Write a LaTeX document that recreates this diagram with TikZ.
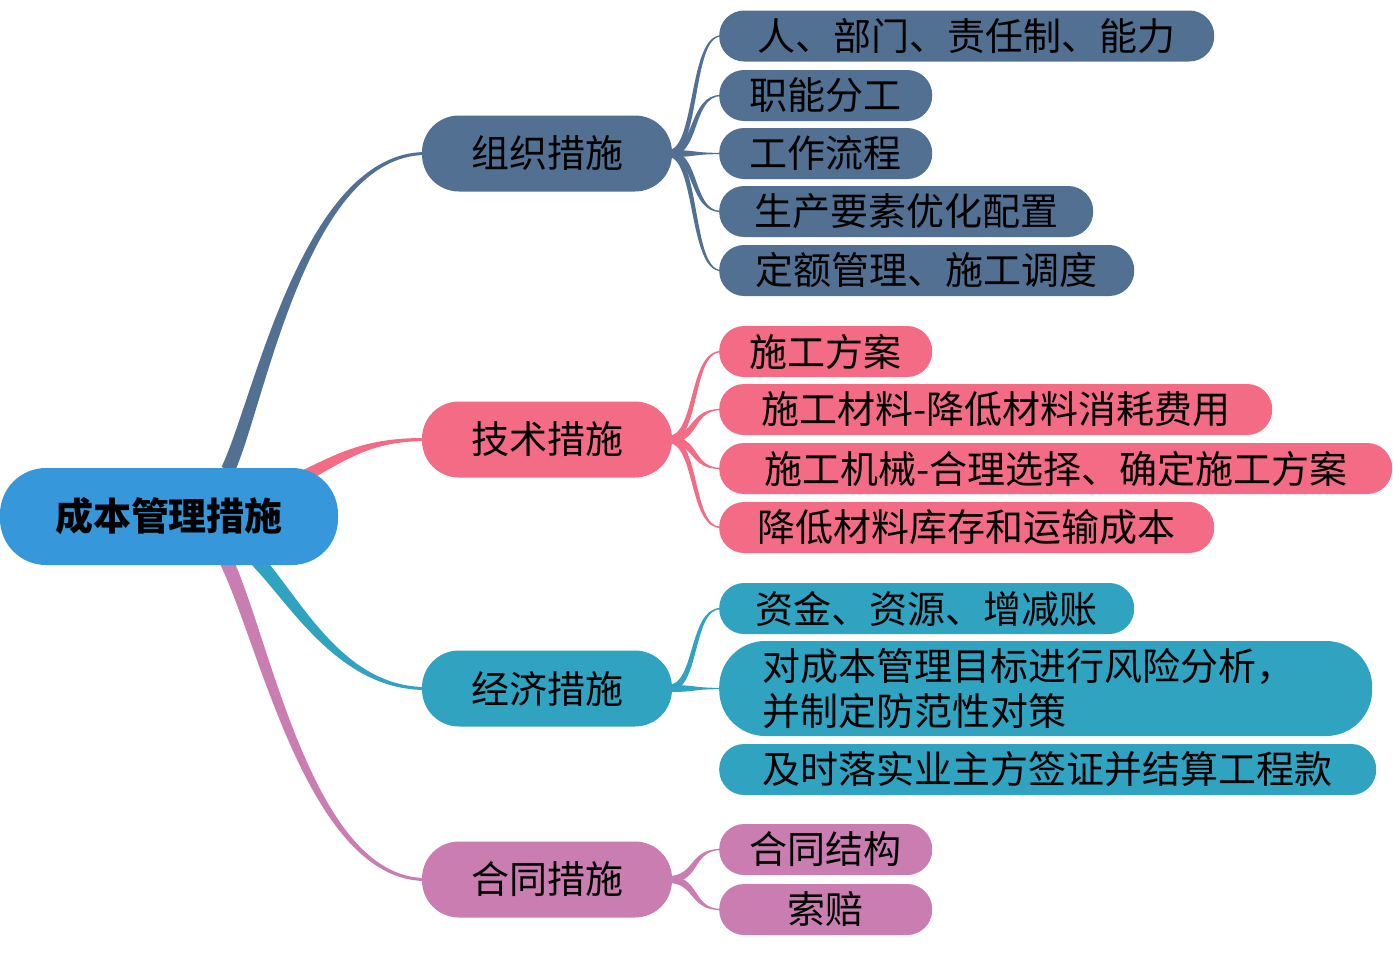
\documentclass[tikz,border=0pt]{standalone}
\usepackage{fontspec}
\setmainfont{Noto Sans CJK SC}
\usetikzlibrary{calc,backgrounds}
\definecolor{cblue}{RGB}{81,112,146}
\definecolor{cpink}{RGB}{244,107,133}
\definecolor{cteal}{RGB}{47,163,192}
\definecolor{cmauve}{RGB}{201,125,176}
\definecolor{croot}{RGB}{54,152,219}
% tapered bezier: colour, P0, P1, P2, P3, offsets o0..o3
\newcommand\taper[9]{\fill[#1] ($(#2)+(#6)$) .. controls ($(#3)+(#7)$) and ($(#4)+(#8)$) .. ($(#5)+(#9)$) -- ($(#5)-(#9)$) .. controls ($(#4)-(#8)$) and ($(#3)-(#7)$) .. ($(#2)-(#6)$) -- cycle;}
% branch-to-leaf connector: colour, branch, leaf, sign (-1 up, 1 down, 0 straight)
\newcommand\leafcon[4]{%
  \coordinate (q0) at ($(#2.east)+(-4,0)$);
  \coordinate (q1) at ($(#2.east)+(26,0)$);
  \coordinate (q2) at ($(#3.west)+(-29,0)$);
  \coordinate (q3) at ($(#3.west)+(2,0)$);
  \taper{#1}{q0}{q1}{q2}{q3}{0,-3.5}{#4*2.8,-3.5}{#4*1.6,-0.8}{0,-0.6}}
\begin{document}
\begin{tikzpicture}[x=1pt,y=-1pt,
  font=\fontsize{38}{45}\selectfont,
  leaf/.style={fill=#1, rectangle, rounded corners=25pt, minimum height=51pt, inner sep=0pt, anchor=west, text=black},
  branch/.style={fill=#1, rectangle, rounded corners=37pt, minimum width=250pt, minimum height=76pt, inner sep=0pt, text=black},
  rootbox/.style={fill=croot, rectangle, rounded corners=46pt, minimum width=338pt, minimum height=97pt, inner sep=0pt, text=black, font=\fontsize{38}{45}\selectfont\bfseries}]
\useasboundingbox (0,0) rectangle (1393,953);

\node[rootbox] (root) at (169,516.5) {成本管理措施};

\node[branch=cblue] (org) at (547,153.5) {组织措施};
\node[branch=cpink] (tec) at (547,439.5) {技术措施};
\node[branch=cteal] (eco) at (547,688.5) {经济措施};
\node[branch=cmauve] (con) at (547,879.5) {合同措施};

\node[leaf=cblue, minimum width=495pt] (o1) at (719,36) {人、部门、责任制、能力};
\node[leaf=cblue, minimum width=213pt] (o2) at (719,95.5) {职能分工};
\node[leaf=cblue, minimum width=213pt] (o3) at (719,153.5) {工作流程};
\node[leaf=cblue, minimum width=374pt] (o4) at (719,211.5) {生产要素优化配置};
\node[leaf=cblue, minimum width=415pt] (o5) at (719,270.5) {定额管理、施工调度};

\node[leaf=cpink, minimum width=213pt] (t1) at (719,351.5) {施工方案};
\node[leaf=cpink, minimum width=553pt] (t2) at (719,409.5) {施工材料-降低材料消耗费用};
\node[leaf=cpink, minimum width=673pt] (t3) at (719,468.5) {施工机械-合理选择、确定施工方案};
\node[leaf=cpink, minimum width=495pt] (t4) at (719,527.5) {降低材料库存和运输成本};

\node[leaf=cteal, minimum width=415pt] (e1) at (719,608.5) {资金、资源、增减账};
\node[leaf=cteal, minimum width=653pt, minimum height=95pt, rounded corners=46pt, inner xsep=43pt, text width=567pt, align=left] (e2) at (719,688.5) {对成本管理目标进行风险分析，\\并制定防范性对策};
\node[leaf=cteal, minimum width=657pt] (e3) at (719,769.5) {及时落实业主方签证并结算工程款};

\node[leaf=cmauve, minimum width=213pt] (m1) at (719,849.5) {合同结构};
\node[leaf=cmauve, minimum width=213pt] (m2) at (719,909.5) {索赔};

\begin{scope}[on background layer]
  % root to branches
  \coordinate (b0) at ($(root.north)+(59,2)$);
  \coordinate (b3) at ($(org.west)+(4,0)$);
  \taper{cblue}{b0}{260,400}{305,153.5}{b3}{-6.4,-2.9}{-5.7,-1.8}{-2.3,-1.5}{0,-1.5}
  \coordinate (p0) at ($(root.north)+(136,8)$);
  \coordinate (p3) at ($(tec.west)+(4,0)$);
  \taper{cpink}{p0}{345,455}{370,439.5}{p3}{-2.8,-5.3}{-2.3,-4.4}{-0.6,-1.8}{0,-1.5}
  \coordinate (e0) at ($(root.south)+(86,-7)$);
  \coordinate (e3) at ($(eco.west)+(4,0)$);
  \taper{cteal}{e0}{295,600}{340,688.5}{e3}{5.1,-4.8}{4.9,-3.5}{2.0,-1.5}{0,-1.5}
  \coordinate (m0) at ($(root.south)+(56,-7)$);
  \coordinate (m3) at ($(con.west)+(4,0)$);
  \taper{cmauve}{m0}{265,640}{310,879.5}{m3}{6.3,-3.1}{5.6,-1.9}{2.3,-1.5}{0,-1.5}
  % branches to leaves
  \leafcon{cblue}{org}{o1}{-1}
  \leafcon{cblue}{org}{o2}{-1}
  \leafcon{cblue}{org}{o3}{0}
  \leafcon{cblue}{org}{o4}{1}
  \leafcon{cblue}{org}{o5}{1}
  \leafcon{cpink}{tec}{t1}{-1}
  \leafcon{cpink}{tec}{t2}{-1}
  \leafcon{cpink}{tec}{t3}{1}
  \leafcon{cpink}{tec}{t4}{1}
  \leafcon{cteal}{eco}{e1}{-1}
  \leafcon{cteal}{eco}{e2}{0}
  \leafcon{cteal}{eco}{e3}{1}
  \leafcon{cmauve}{con}{m1}{-1}
  \leafcon{cmauve}{con}{m2}{1}
\end{scope}
\end{tikzpicture}
\end{document}
